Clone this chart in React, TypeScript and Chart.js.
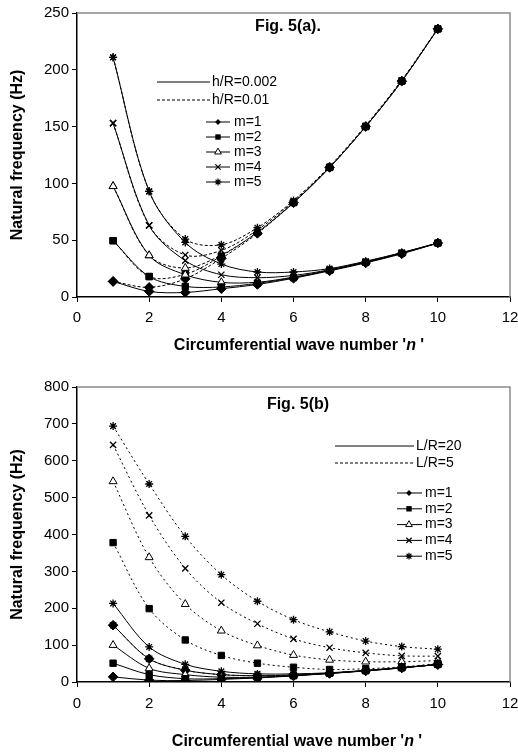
import React, { useEffect, useRef } from 'react';
import { Chart, registerables } from 'chart.js';

Chart.register(...registerables);

const FONT = "'Liberation Sans', Arial, Helvetica, sans-serif";

// ---------- data ----------
const waveNumbers = [1, 2, 3, 4, 5, 6, 7, 8, 9, 10];
const xTickValues = [0, 2, 4, 6, 8, 10, 12];
const aYTickValues = [0, 50, 100, 150, 200, 250];
const bYTickValues = [0, 100, 200, 300, 400, 500, 600, 700, 800];

const modeLabels = ['m=1', 'm=2', 'm=3', 'm=4', 'm=5'];
const modeStyles = ['rectRot', 'rect', 'triangle', 'crossRot', 'star'];

// Fig. 5(a): h/R = 0.002 (solid)
const aThinM1 = [13.7, 4.9, 4.0, 7.3, 11.0, 16.5, 23.0, 30.0, 38.0, 47.5];
const aThinM2 = [49.6, 18.0, 9.3, 8.8, 12.0, 17.0, 23.5, 30.5, 38.5, 47.5];
const aThinM3 = [97.5, 36.6, 19.6, 12.9, 13.0, 17.5, 23.5, 30.5, 38.5, 47.5];
const aThinM4 = [153, 63, 32, 19.6, 17.0, 19.0, 24.0, 31.0, 39.0, 47.5];
const aThinM5 = [211, 93, 48, 29, 22, 22, 25, 31.5, 39, 47.5];
// Fig. 5(a): h/R = 0.01 (dashed)
const aThickM1 = [13.7, 8.5, 16, 34, 56, 83, 114, 150, 190, 236];
const aThickM2 = [49.6, 18, 20, 36, 57, 83, 114, 150, 190, 236];
const aThickM3 = [97.5, 36.6, 25.5, 37, 57, 83, 114, 150, 190, 236];
const aThickM4 = [153, 63, 37, 41, 59, 84, 114, 150, 190, 236];
const aThickM5 = [211, 93, 51, 46, 61, 85, 115, 151, 191, 236.5];

// Fig. 5(b): L/R = 20 (solid)
const bL20M1 = [14, 5, 4, 7, 11, 16.5, 23, 30, 38, 47.5];
const bL20M2 = [51, 20, 9, 9, 12, 17, 23.5, 30.5, 38.5, 47.5];
const bL20M3 = [100, 37, 20, 13, 13, 17.5, 23.5, 30.5, 38.5, 47.5];
const bL20M4 = [154, 63, 32, 20, 17, 19, 24, 31, 39, 47.5];
const bL20M5 = [213, 95, 48, 29, 22, 22, 25, 31.5, 39, 47.5];
// Fig. 5(b): L/R = 5 (dashed)
const bL5M1 = [154, 63, 32, 20, 17, 19, 24, 31, 39, 47.5];
const bL5M2 = [378, 199, 114, 72, 51, 40, 34, 36, 41, 50];
const bL5M3 = [544, 338, 211, 139, 99, 73, 60, 55, 55, 58];
const bL5M4 = [643, 452, 308, 215, 158, 117, 93, 79, 71, 70];
const bL5M5 = [694, 537, 395, 291, 219, 169, 136, 111, 96, 89];

const yTitle = 'Natural frequency (Hz)';
const xTitleParts = ["Circumferential wave number '", 'n', " '"];

// ---------- helpers ----------
const markerRadius: Record<string, number> = {
  rectRot: 4.8,
  rect: 4.5,
  triangle: 4.6,
  crossRot: 4.4,
  star: 4,
};

function makeDataset(vals: number[], i: number, dash: number[], group: string) {
  const style = modeStyles[i];
  return {
    label: `${group} ${modeLabels[i]}`,
    data: vals.map((v, k) => ({ x: waveNumbers[k], y: v })),
    borderColor: '#000',
    backgroundColor: '#000',
    borderWidth: 1,
    borderDash: dash,
    tension: 0.33,
    pointStyle: style,
    pointRadius: markerRadius[style],
    pointBackgroundColor: style === 'triangle' ? '#fff' : '#000',
    pointBorderColor: '#000',
    pointBorderWidth: style === 'star' || style === 'crossRot' ? 1.3 : 1,
  };
}

function drawMarker(ctx: CanvasRenderingContext2D, style: string, x: number, y: number) {
  const r = markerRadius[style] * 0.85;
  ctx.save();
  ctx.strokeStyle = '#000';
  ctx.fillStyle = '#000';
  ctx.lineWidth = 1;
  ctx.setLineDash([]);
  ctx.beginPath();
  if (style === 'rectRot') {
    const s = r * Math.SQRT1_2;
    ctx.moveTo(x - s, y);
    ctx.lineTo(x, y + s);
    ctx.lineTo(x + s, y);
    ctx.lineTo(x, y - s);
    ctx.closePath();
    ctx.fill();
  } else if (style === 'rect') {
    const s = r * Math.SQRT1_2;
    ctx.rect(x - s, y - s, 2 * s, 2 * s);
    ctx.fill();
  } else if (style === 'triangle') {
    ctx.moveTo(x, y - r);
    ctx.lineTo(x + r * Math.sin((2 * Math.PI) / 3), y + r * 0.5);
    ctx.lineTo(x - r * Math.sin((2 * Math.PI) / 3), y + r * 0.5);
    ctx.closePath();
    ctx.fillStyle = '#fff';
    ctx.fill();
    ctx.stroke();
  } else if (style === 'crossRot' || style === 'star') {
    const s = r * Math.SQRT1_2;
    ctx.lineWidth = 1.2;
    ctx.moveTo(x - s, y - s);
    ctx.lineTo(x + s, y + s);
    ctx.moveTo(x - s, y + s);
    ctx.lineTo(x + s, y - s);
    if (style === 'star') {
      ctx.moveTo(x, y - r);
      ctx.lineTo(x, y + r);
      ctx.moveTo(x - r, y);
      ctx.lineTo(x + r, y);
    }
    ctx.stroke();
  }
  ctx.restore();
}

interface OverlayCfg {
  title: string;
  titleX: number;
  titleY: number;
  styleLegend: { label: string; dash: number[]; x0: number; x1: number; y: number; tx: number }[];
  modeLegend: { x0: number; x1: number; mx: number; tx: number; y0: number; dy: number };
  xTitleX: number;
  xTitleY: number;
}

function overlayPlugin(cfg: OverlayCfg) {
  return {
    id: 'overlay',
    afterDraw(chart: any) {
      const { ctx, chartArea: ca } = chart;
      ctx.save();
      // gray frame on top and right
      ctx.strokeStyle = '#8a8a8a';
      ctx.lineWidth = 1.5;
      ctx.beginPath();
      ctx.moveTo(ca.left, ca.top);
      ctx.lineTo(ca.right, ca.top);
      ctx.lineTo(ca.right, ca.bottom);
      ctx.stroke();

      // figure title
      ctx.fillStyle = '#000';
      ctx.font = `bold 16px ${FONT}`;
      ctx.textAlign = 'center';
      ctx.textBaseline = 'middle';
      ctx.fillText(cfg.title, cfg.titleX, cfg.titleY);

      // line style legend
      ctx.font = `14px ${FONT}`;
      ctx.textAlign = 'left';
      cfg.styleLegend.forEach((s) => {
        ctx.save();
        ctx.strokeStyle = '#000';
        ctx.lineWidth = 1;
        ctx.setLineDash(s.dash);
        ctx.beginPath();
        ctx.moveTo(s.x0, s.y);
        ctx.lineTo(s.x1, s.y);
        ctx.stroke();
        ctx.restore();
        ctx.fillText(s.label, s.tx, s.y);
      });

      // mode legend
      const m = cfg.modeLegend;
      modeLabels.forEach((lab, i) => {
        const y = m.y0 + i * m.dy;
        ctx.save();
        ctx.strokeStyle = '#000';
        ctx.lineWidth = 1;
        ctx.setLineDash([]);
        ctx.beginPath();
        ctx.moveTo(m.x0, y);
        ctx.lineTo(m.x1, y);
        ctx.stroke();
        ctx.restore();
        drawMarker(ctx, modeStyles[i], m.mx, y);
        ctx.fillText(lab, m.tx, y);
      });

      // x axis title with italic n
      const fonts = [`bold 16px ${FONT}`, `italic bold 16px ${FONT}`, `bold 16px ${FONT}`];
      const widths = xTitleParts.map((p, i) => {
        ctx.font = fonts[i];
        return ctx.measureText(p).width;
      });
      const total = widths.reduce((a, b) => a + b, 0);
      let x = cfg.xTitleX - total / 2;
      ctx.textAlign = 'left';
      xTitleParts.forEach((p, i) => {
        ctx.font = fonts[i];
        ctx.fillText(p, x, cfg.xTitleY);
        x += widths[i];
      });
      ctx.restore();
    },
  };
}

function makeOptions(yMax: number, yTicks: number[], padTop: number, xHeight: number, xTickPad: number) {
  return {
    responsive: false,
    animation: false as const,
    devicePixelRatio: 1,
    layout: { padding: { top: padTop, right: 8, left: 0, bottom: 0 } },
    plugins: { legend: { display: false }, tooltip: { enabled: false }, title: { display: false } },
    elements: { line: { capBezierPoints: true } },
    scales: {
      x: {
        type: 'linear' as const,
        min: 0,
        max: 12,
        afterBuildTicks: (scale: any) => {
          scale.ticks = xTickValues.map((v) => ({ value: v }));
        },
        afterFit: (scale: any) => {
          scale.height = xHeight;
          scale.paddingRight = 8;
          scale.paddingLeft = 0;
        },
        ticks: { color: '#000', font: { family: FONT, size: 15 }, padding: xTickPad, autoSkip: false, maxRotation: 0 },
        grid: { display: true, drawOnChartArea: false, drawTicks: true, tickLength: 5, color: '#000', lineWidth: 1 },
        border: { display: true, color: '#000', width: 1.5 },
        title: { display: false },
      },
      y: {
        type: 'linear' as const,
        min: 0,
        max: yMax,
        afterBuildTicks: (scale: any) => {
          scale.ticks = yTicks.map((v) => ({ value: v }));
        },
        afterFit: (scale: any) => {
          scale.width = 77;
        },
        ticks: { color: '#000', font: { family: FONT, size: 15 }, padding: 3, autoSkip: false },
        grid: { display: true, drawOnChartArea: false, drawTicks: true, tickLength: 5, color: '#000', lineWidth: 1 },
        border: { display: true, color: '#000', width: 1.5 },
        title: {
          display: true,
          text: yTitle,
          color: '#000',
          font: { family: FONT, size: 16, weight: 'bold' as const },
          padding: { top: 8, bottom: 0 },
        },
      },
    },
  };
}

function ChartA() {
  const ref = useRef<HTMLCanvasElement>(null);
  useEffect(() => {
    const solid = [aThinM1, aThinM2, aThinM3, aThinM4, aThinM5];
    const dashed = [aThickM1, aThickM2, aThickM3, aThickM4, aThickM5];
    const datasets = [
      ...solid.map((v, i) => makeDataset(v, i, [], 'h/R=0.002')),
      ...dashed.map((v, i) => makeDataset(v, i, [3, 2], 'h/R=0.01')),
    ];
    const chart = new Chart(ref.current as HTMLCanvasElement, {
      type: 'line',
      data: { datasets } as any,
      options: makeOptions(250, aYTickValues, 13, 78, 7) as any,
      plugins: [
        overlayPlugin({
          title: 'Fig. 5(a).',
          titleX: 288,
          titleY: 27,
          styleLegend: [
            { label: 'h/R=0.002', dash: [], x0: 157, x1: 210, y: 82, tx: 212 },
            { label: 'h/R=0.01', dash: [3, 2], x0: 157, x1: 210, y: 100, tx: 212 },
          ],
          modeLegend: { x0: 206, x1: 230, mx: 218, tx: 234, y0: 122, dy: 15 },
          xTitleX: 299,
          xTitleY: 346,
        }),
      ],
    });
    return () => chart.destroy();
  }, []);
  return <canvas ref={ref} width={518} height={375} style={{ display: 'block', width: 518, height: 375 }} />;
}

function ChartB() {
  const ref = useRef<HTMLCanvasElement>(null);
  useEffect(() => {
    const solid = [bL20M1, bL20M2, bL20M3, bL20M4, bL20M5];
    const dashed = [bL5M1, bL5M2, bL5M3, bL5M4, bL5M5];
    const datasets = [
      ...solid.map((v, i) => makeDataset(v, i, [], 'L/R=20')),
      ...dashed.map((v, i) => makeDataset(v, i, [2, 3], 'L/R=5')),
    ];
    const chart = new Chart(ref.current as HTMLCanvasElement, {
      type: 'line',
      data: { datasets } as any,
      options: makeOptions(800, bYTickValues, 10, 71, 8) as any,
      plugins: [
        overlayPlugin({
          title: 'Fig. 5(b)',
          titleX: 298,
          titleY: 30,
          styleLegend: [
            { label: 'L/R=20', dash: [], x0: 335, x1: 414, y: 71, tx: 416 },
            { label: 'L/R=5', dash: [3, 2], x0: 335, x1: 414, y: 88, tx: 416 },
          ],
          modeLegend: { x0: 397, x1: 422, mx: 409, tx: 425, y0: 118, dy: 15.8 },
          xTitleX: 297,
          xTitleY: 367,
        }),
      ],
    });
    return () => chart.destroy();
  }, []);
  return <canvas ref={ref} width={518} height={378} style={{ display: 'block', width: 518, height: 378 }} />;
}

export default function App() {
  return (
    <div style={{ position: 'absolute', left: 0, top: 0, width: 518, height: 753, background: '#fff' }}>
      <ChartA />
      <ChartB />
    </div>
  );
}
